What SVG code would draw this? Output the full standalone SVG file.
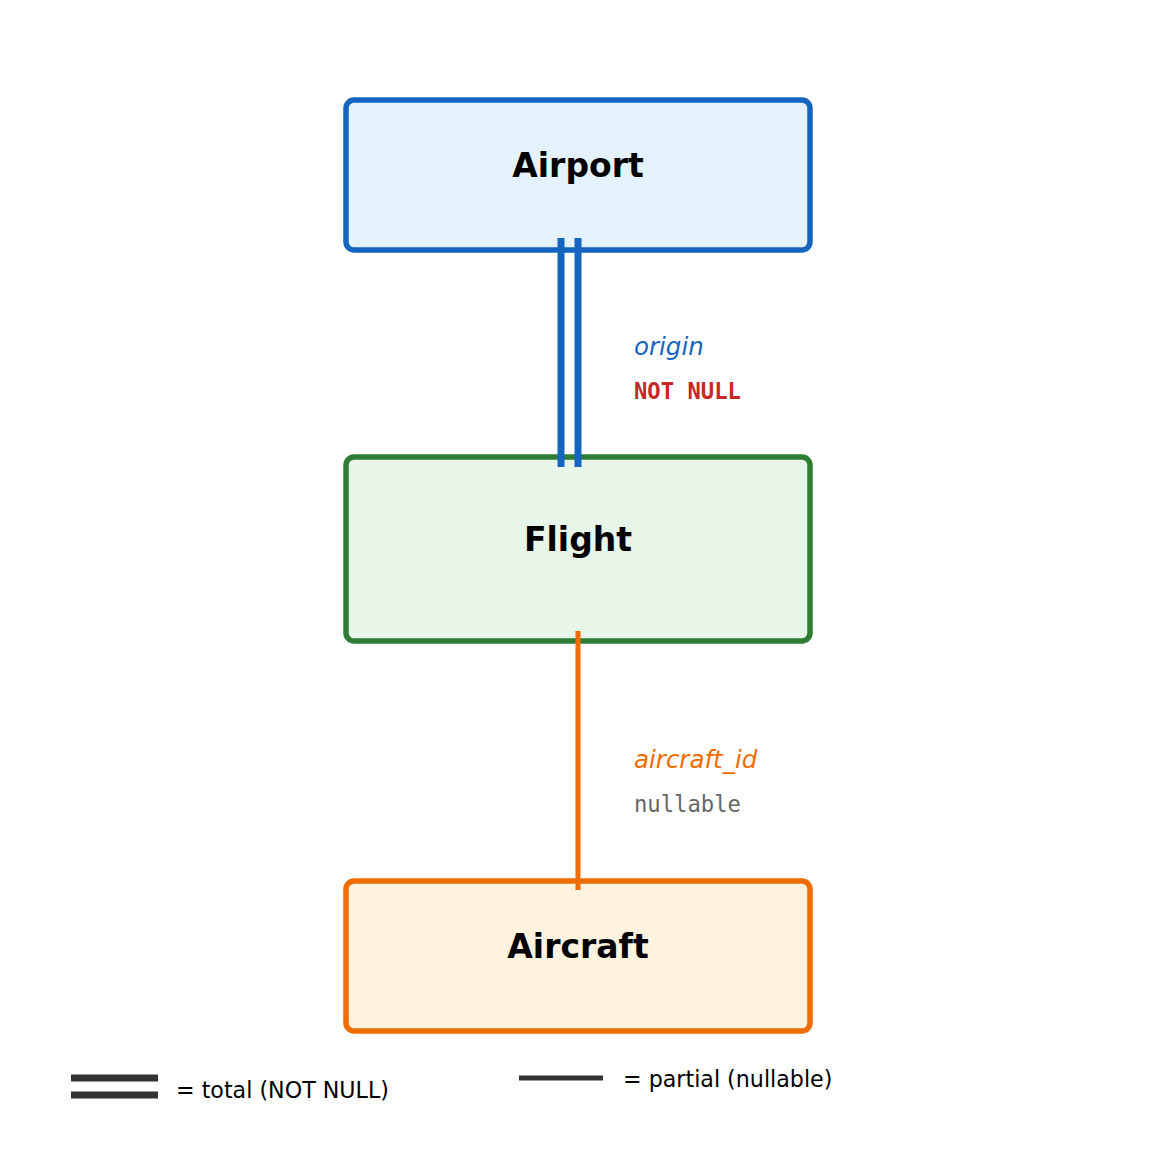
<svg xmlns="http://www.w3.org/2000/svg" width="1155" height="1155" viewBox="0 0 1155 1155">
<style>
.box{stroke-width:5.5}
.title{font-family:"DejaVu Sans",sans-serif;font-weight:bold;font-size:33px;text-anchor:middle;fill:#000}
.role{font-family:"DejaVu Sans",sans-serif;font-style:italic;font-size:24.5px}
.mono{font-family:"DejaVu Sans Mono",monospace;font-size:22.2px}
.leg{font-family:"DejaVu Sans",sans-serif;font-size:22.2px;fill:#000}
</style>
<rect width="1155" height="1155" fill="#fff"/>
<g id="airport">
<rect class="box" x="346" y="100" width="464" height="150" rx="8" fill="#E3F2FD" stroke="#1565C0"/>
<text class="title" x="578" y="177">Airport</text>
</g>
<g id="flight">
<rect class="box" x="346" y="457" width="464" height="184" rx="8" fill="#E8F5E9" stroke="#2E7D32"/>
<text class="title" x="578" y="551">Flight</text>
</g>
<g id="aircraft">
<rect class="box" x="346" y="881" width="464" height="150" rx="8" fill="#FFF3E0" stroke="#EF6C00"/>
<text class="title" x="578" y="958">Aircraft</text>
</g>
<g id="connectors">
<line x1="561" y1="238" x2="561" y2="467" stroke="#1565C0" stroke-width="7"/>
<line x1="578" y1="238" x2="578" y2="467" stroke="#1565C0" stroke-width="7"/>
<text class="role" x="634" y="355" fill="#1565C0">origin</text>
<text class="mono" x="634" y="399" fill="#C62828" font-weight="bold">NOT NULL</text>
<line x1="578" y1="631" x2="578" y2="890" stroke="#EF6C00" stroke-width="5"/>
<text class="role" x="634" y="768" fill="#EF6C00">aircraft_id</text>
<text class="mono" x="634" y="812" fill="#666666">nullable</text>
</g>
<g id="legend">
<line x1="71" y1="1078" x2="158" y2="1078" stroke="#333" stroke-width="7"/>
<line x1="71" y1="1095" x2="158" y2="1095" stroke="#333" stroke-width="7"/>
<text class="leg" x="176" y="1098">= total (NOT NULL)</text>
<line x1="519" y1="1078" x2="603" y2="1078" stroke="#333" stroke-width="5"/>
<text class="leg" x="623" y="1087">= partial (nullable)</text>
</g>
</svg>
